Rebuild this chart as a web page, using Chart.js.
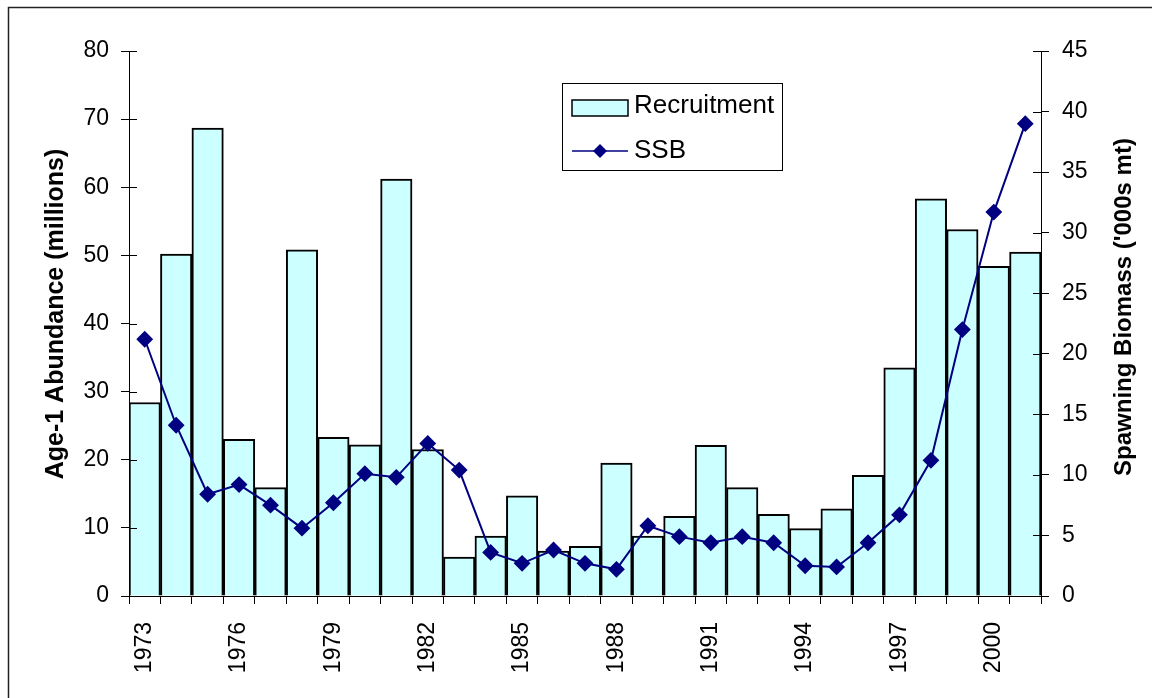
<!DOCTYPE html>
<html>
<head>
<meta charset="utf-8">
<script src="https://cdn.jsdelivr.net/npm/chart.js@4.4.1/dist/chart.umd.min.js"></script>
<style>
  html, body { margin: 0; padding: 0; background: #fff; }
  #wrap { position: relative; width: 1152px; height: 698px; }
</style>
</head>
<body>
<div id="wrap"><canvas id="chart" width="1152" height="698"></canvas></div>
<script>
// ── Data ────────────────────────────────────────────────────
const years = ['1973','1974','1975','1976','1977','1978','1979','1980','1981','1982',
               '1983','1984','1985','1986','1987','1988','1989','1990','1991','1992',
               '1993','1994','1995','1996','1997','1998','1999','2000','2001'];

// Age-1 abundance (millions)
const recruitment = [28.4, 50.2, 68.7, 23.0, 15.9, 50.8, 23.3, 22.2, 61.2, 21.5,
                     5.7, 8.8, 14.7, 6.6, 7.3, 19.5, 8.8, 11.7, 22.1, 15.9,
                     12.0, 9.9, 12.8, 17.7, 33.5, 58.3, 53.8, 48.4, 50.5];

// Spawning biomass ('000s mt)
const ssb = [21.2, 14.1, 8.4, 9.2, 7.5, 5.6, 7.7, 10.1, 9.8, 12.6,
             10.4, 3.6, 2.7, 3.8, 2.7, 2.2, 5.8, 4.9, 4.4, 4.9,
             4.4, 2.5, 2.4, 4.4, 6.7, 11.2, 22.0, 31.7, 39.0];

const leftTicks = { min: 0, max: 80, step: 10 };
const rightTicks = { min: 0, max: 45, step: 5 };

const leftTitle = 'Age-1 Abundance (millions)';
const rightTitle = "Spawning Biomass ('000s mt)";

const FONT = "'Liberation Sans', Arial, sans-serif";

// ── Global config ───────────────────────────────────────────
Chart.defaults.font.family = FONT;
Chart.defaults.font.size = 23;
Chart.defaults.color = '#000';

// ── Plugins ─────────────────────────────────────────────────
// white background + outer frame (Excel chart area)
const frame = {
    id: 'frame',
    beforeDraw(chart) {
        const ctx = chart.ctx;
        ctx.save();
        ctx.fillStyle = '#fff';
        ctx.fillRect(0, 0, chart.width, chart.height);
        ctx.restore();
    },
    afterDraw(chart) {
        const ctx = chart.ctx;
        ctx.save();
        ctx.strokeStyle = '#222';
        ctx.lineWidth = 1.5;
        ctx.strokeRect(8.5, 7.5, chart.width + 20, chart.height + 20);
        ctx.restore();
    }
};

// tick marks crossing the value axes
const crossTicks = {
    id: 'crossTicks',
    afterDraw(chart) {
        const ctx = chart.ctx;
        ctx.save();
        ctx.strokeStyle = '#000';
        ctx.lineWidth = 1;
        ['yLeft', 'yRight'].forEach(id => {
            const s = chart.scales[id];
            const x = id === 'yLeft' ? s.right : s.left;
            const dir = id === 'yLeft' ? 1 : -1;
            s.ticks.forEach(t => {
                const y = Math.round(s.getPixelForValue(t.value)) + 0.5;
                ctx.beginPath();
                ctx.moveTo(x, y);
                ctx.lineTo(x + dir * 8, y);
                ctx.stroke();
            });
        });
        ctx.restore();
    }
};

// both axis titles read bottom-to-top, like Excel
const axisTitles = {
    id: 'axisTitles',
    afterDraw(chart, args, opts) {
        const ctx = chart.ctx;
        opts.items.forEach(t => {
            ctx.save();
            ctx.translate(t.x, t.y);
            ctx.rotate(-Math.PI / 2);
            ctx.font = `bold ${t.size}px ${FONT}`;
            ctx.fillStyle = '#000';
            ctx.textAlign = 'center';
            ctx.textBaseline = 'middle';
            ctx.fillText(t.text, 0, 0);
            ctx.restore();
        });
    }
};

// boxed legend inside the plot
const boxLegend = {
    id: 'boxLegend',
    afterDraw(chart, args, opts) {
        const ctx = chart.ctx;
        const bar = chart.data.datasets[1];
        const line = chart.data.datasets[0];
        const { x, y, w, h } = opts;
        ctx.save();
        ctx.fillStyle = '#fff';
        ctx.fillRect(x, y, w, h);
        ctx.strokeStyle = '#000';
        ctx.lineWidth = 1;
        ctx.strokeRect(x + 0.5, y + 0.5, w, h);

        // Recruitment swatch
        ctx.fillStyle = bar.backgroundColor;
        ctx.fillRect(x + 10, y + 17, 56, 16);
        ctx.lineWidth = 1.5;
        ctx.strokeRect(x + 10, y + 17, 56, 16);

        // SSB swatch
        const ly = y + 68;
        ctx.strokeStyle = line.borderColor;
        ctx.lineWidth = 1.5;
        ctx.beginPath();
        ctx.moveTo(x + 10, ly);
        ctx.lineTo(x + 66, ly);
        ctx.stroke();
        ctx.fillStyle = line.pointBackgroundColor;
        ctx.beginPath();
        ctx.moveTo(x + 38, ly - 7);
        ctx.lineTo(x + 45, ly);
        ctx.lineTo(x + 38, ly + 7);
        ctx.lineTo(x + 31, ly);
        ctx.closePath();
        ctx.fill();

        ctx.fillStyle = '#000';
        ctx.font = `26px ${FONT}`;
        ctx.textBaseline = 'middle';
        ctx.textAlign = 'left';
        ctx.fillText(bar.label, x + 72, y + 23);
        ctx.fillText(line.label, x + 72, ly);
        ctx.restore();
    }
};

// ── Chart ───────────────────────────────────────────────────
new Chart(document.getElementById('chart'), {
    data: {
        labels: years,
        datasets: [
            {
                type: 'line',
                label: 'SSB',
                data: ssb,
                yAxisID: 'yRight',
                order: 0,
                borderColor: '#000080',
                borderWidth: 2,
                pointStyle: 'rectRot',
                pointRadius: 7,
                pointBackgroundColor: '#000080',
                pointBorderColor: '#000080',
                tension: 0,
            },
            {
                type: 'bar',
                label: 'Recruitment',
                data: recruitment,
                yAxisID: 'yLeft',
                order: 1,
                backgroundColor: '#ccffff',
                borderColor: '#000',
                borderWidth: 2,
                barPercentage: 1,
                categoryPercentage: 1,
            },
        ],
    },
    options: {
        responsive: false,
        devicePixelRatio: 1,
        animation: false,
        layout: { padding: { top: 51, left: 0, right: 0, bottom: 0 } },
        plugins: {
            legend: { display: false },
            tooltip: { enabled: false },
            boxLegend: { x: 562, y: 83, w: 220, h: 87 },
            axisTitles: {
                items: [
                    { text: leftTitle, x: 56, y: 314, size: 25 },
                    { text: rightTitle, x: 1124, y: 307, size: 24 },
                ],
            },
        },
        scales: {
            x: {
                offset: true,
                grid: { drawOnChartArea: false, offset: true, color: '#000', tickLength: 8 },
                border: { color: '#000', width: 1 },
                ticks: {
                    autoSkip: false,
                    maxRotation: 90,
                    minRotation: 90,
                    padding: 18,
                    callback: (v, i) => (i % 3 === 0 ? years[i] : ''),
                },
                afterFit: s => { s.height = 102; },
            },
            yLeft: {
                position: 'left',
                min: leftTicks.min,
                max: leftTicks.max,
                grid: { drawOnChartArea: false, color: '#000', tickLength: 8 },
                border: { color: '#000', width: 1 },
                ticks: { stepSize: leftTicks.step, padding: 12 },
                afterFit: s => { s.width = 129; },
            },
            yRight: {
                position: 'right',
                min: rightTicks.min,
                max: rightTicks.max,
                grid: { drawOnChartArea: false, color: '#000', tickLength: 8 },
                border: { color: '#000', width: 1 },
                ticks: { stepSize: rightTicks.step, padding: 13 },
                afterFit: s => { s.width = 111; },
            },
        },
    },
    plugins: [frame, crossTicks, axisTitles, boxLegend],
});
</script>
</body>
</html>
